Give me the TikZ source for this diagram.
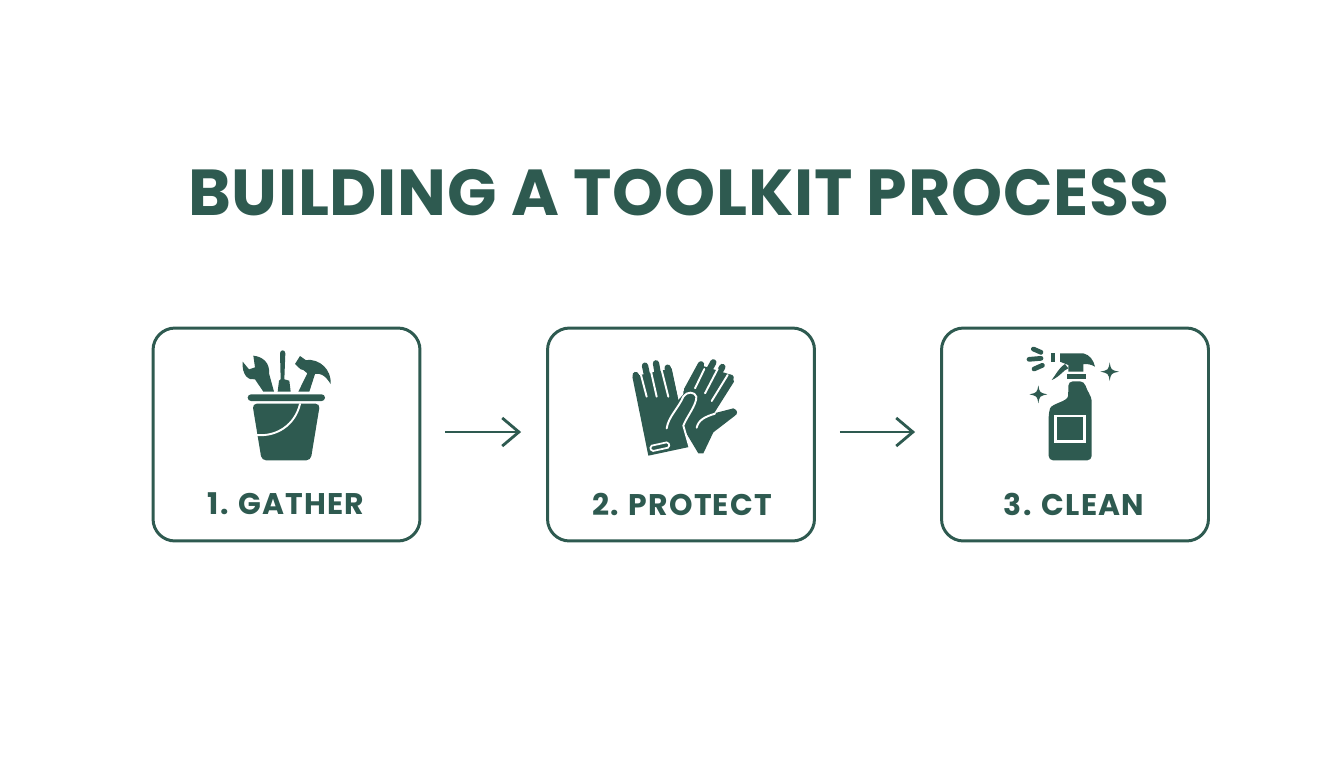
\documentclass[tikz,border=0pt]{standalone}
\usepackage{fontspec}
\setmainfont{Poppins}
\newfontfamily\titlefont[LetterSpace=1.1]{Poppins}
\newfontfamily\labelfont[LetterSpace=4]{Poppins}
\usetikzlibrary{arrows.meta}
\definecolor{toolgreen}{HTML}{2E5A50}

\begin{document}
\begin{tikzpicture}[x=0.02cm,y=-0.02cm]
  \tikzstyle{StepBox}=[draw=toolgreen,line width=1.7pt,rounded corners=12.5pt,minimum width=5.34cm,minimum height=4.26cm]
  \tikzstyle{StepLabel}=[text=toolgreen,font=\labelfont\bfseries\fontsize{17}{20}\selectfont,inner sep=0pt]
  \tikzstyle{FlowArrow}=[draw=toolgreen,line width=1.6pt,-{Straight Barb[length=9.5pt,width=16pt,line width=1.6pt]}]
  \tikzstyle{GapLine}=[draw=white,line width=1.1pt,line cap=round,line join=round]
  \tikzstyle{IconLine}=[draw=toolgreen,line cap=round]
  \useasboundingbox (0,0) rectangle (1344,768);
  \node[text=toolgreen,font=\titlefont\bfseries\fontsize{37}{44}\selectfont,inner sep=0pt] (title) at (679,193) {BUILDING A TOOLKIT PROCESS};
  \node[StepBox] (gather) at (286.5,434.5) {};
  \node[StepBox] (protect) at (681,434.5) {};
  \node[StepBox] (clean) at (1075,434.5) {};
  \node[StepLabel] (gatherlabel) at (286,504) {1. GATHER};
  \node[StepLabel] (protectlabel) at (682,504) {2. PROTECT};
  \node[StepLabel] (cleanlabel) at (1074,504) {3. CLEAN};
  \draw[FlowArrow,shorten <=13.6pt,shorten >=14.2pt] (gather.east |- 0,432) -- (protect.west |- 0,432);
  \draw[FlowArrow,shorten <=13.6pt,shorten >=14.2pt] (protect.east |- 0,432) -- (clean.west |- 0,432);
  % bucket
  \begin{scope}[shift={(220,340)},scale=1/3]
    \fill[toolgreen] (100,47) .. controls (130,50) and (150,70) .. (147,100) -- (162,155) -- (130,155) -- (105,118) .. controls (85,122) and (65,105) .. (68,65) -- (87,88) -- (105,82) -- cycle;
    \fill[toolgreen] (180,40) .. controls (180,28) and (196,28) .. (196,40) -- (193,118) -- (208,122) -- (212,155) -- (173,155) -- (177,122) -- (182,118) -- cycle;
    \fill[toolgreen] (225,72) -- (240,48) -- (257,60) .. controls (300,55) and (335,90) .. (332,132) .. controls (315,105) and (300,98) .. (285,102) -- (268,155) -- (235,155) -- (262,100) -- (250,90) -- (242,88) -- cycle;
    \fill[toolgreen,rounded corners=1.9pt] (83,163) rectangle (315,183);
    \fill[toolgreen,rounded corners=2.5pt] (97,191) -- (300,191) -- (272,361) -- (125,361) -- cycle;
    \draw[GapLine] (240,192) .. controls (225,255) and (170,290) .. (112,285);
  \end{scope}
  % gloves
  \begin{scope}[shift={(615,345)},scale=1/3]
    \fill[toolgreen] (255,60) -- (350,90) -- (357,110) -- (297,205) -- (355,190) .. controls (370,195) and (368,208) .. (360,212) -- (295,262) -- (265,325) -- (250,325) -- (205,250) -- (205,140) -- cycle;
    \draw[IconLine,line width=3.6pt] (258,58) -- (216,135);
    \draw[IconLine,line width=3.6pt] (295,52) -- (250,135);
    \draw[IconLine,line width=3.6pt] (322,66) -- (275,150);
    \draw[IconLine,line width=3.6pt] (347,98) -- (298,175);
    \draw[GapLine] (268,72) -- (240,130);
    \draw[GapLine] (308,72) -- (270,145);
    \draw[GapLine] (338,90) -- (290,168);
    \draw[GapLine] (245,248) .. controls (250,225) and (270,215) .. (300,206);
    \fill[toolgreen] (52,95) -- (100,332) -- (222,306) -- (205,245) .. controls (225,210) and (250,175) .. (242,150) .. controls (235,135) and (215,135) .. (205,148) -- (190,165) -- (170,70) -- cycle;
    \draw[IconLine,line width=3.6pt] (62,90) -- (85,165);
    \draw[IconLine,line width=3.6pt] (90,62) -- (110,155);
    \draw[IconLine,line width=3.6pt] (123,55) -- (140,155);
    \draw[IconLine,line width=3.6pt] (158,68) -- (178,155);
    \draw[GapLine] (78,90) -- (95,155);
    \draw[GapLine] (107,75) -- (125,155);
    \draw[GapLine] (140,75) -- (160,155);
    \draw[GapLine] (155,250) .. controls (160,215) and (190,190) .. (205,155) .. controls (215,138) and (240,140) .. (244,155) .. controls (245,180) and (215,215) .. (205,242) -- (225,312);
    \draw[draw=white,line width=1pt,rounded corners=1pt] (105,303) -- (160,291) -- (164,307) -- (109,319) -- cycle;
  \end{scope}
  % spray bottle
  \begin{scope}[shift={(1015,340)},scale=1/3]
    \fill[toolgreen,rounded corners=2.5pt] (160,124) -- (208,124) .. controls (215,150) and (230,170) .. (230,195) -- (230,361) -- (101,361) -- (101,218) .. controls (110,190) and (158,185) .. (160,155) -- cycle;
    \fill[toolgreen] (157,102) rectangle (212,117);
    \fill[toolgreen] (135,40) -- (205,40) .. controls (225,45) and (235,60) .. (240,80) .. controls (228,72) and (215,72) .. (205,72) -- (205,95) -- (160,95) -- (160,75) -- (135,65) -- cycle;
    \fill[toolgreen] (108,40) rectangle (120,65);
    \fill[toolgreen] (150,72) -- (160,85) .. controls (145,90) and (135,110) .. (110,120) .. controls (122,105) and (130,85) .. (150,72) -- cycle;
    \draw[IconLine,line width=2.7pt] (55,27) -- (78,37);
    \draw[IconLine,line width=2.7pt] (42,58) -- (78,55);
    \draw[IconLine,line width=2.7pt] (57,87) -- (82,76);
    \fill[toolgreen] (284,67) .. controls (288,90) .. (312,95) .. controls (288,100) .. (284,123) .. controls (280,100) .. (256,95) .. controls (280,90) .. cycle;
    \fill[toolgreen] (70,136) .. controls (74,158) .. (97,163) .. controls (74,168) .. (70,190) .. controls (66,168) .. (43,163) .. controls (66,158) .. cycle;
    \draw[draw=white,line width=1.5pt] (122,228) rectangle (208,305);
  \end{scope}
\end{tikzpicture}
\end{document}
